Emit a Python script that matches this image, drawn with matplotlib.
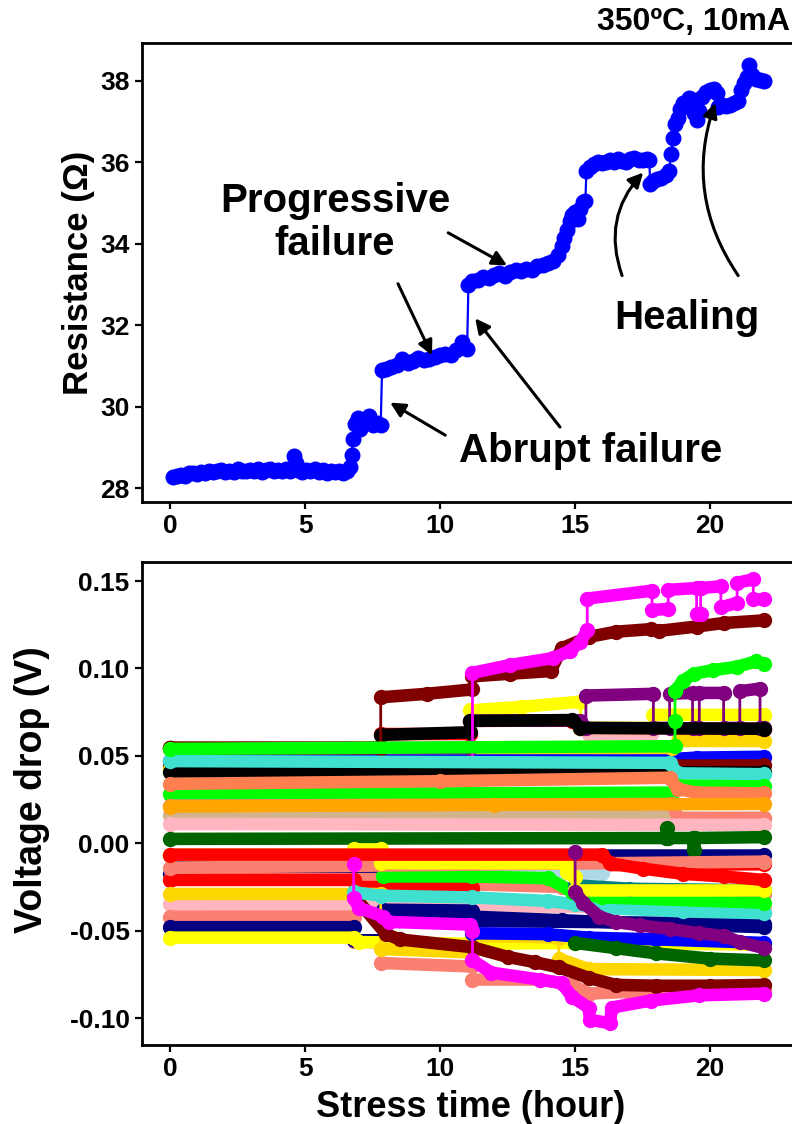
import numpy as np
import matplotlib
matplotlib.use("Agg")
import matplotlib.pyplot as plt
from matplotlib.ticker import FormatStrFormatter

plt.rcParams['font.family'] = ['Liberation Sans', 'DejaVu Sans']
plt.rcParams['font.weight'] = 'bold'
plt.rcParams['axes.labelweight'] = 'bold'

# --- resistance vs stress time (top panel) ---
t_res = [0.10, 0.25, 0.40, 0.55, 0.70, 0.85, 1.00, 1.15, 1.30, 1.45, 1.60, 1.75, 1.90, 2.05,
         2.20, 2.35, 2.50, 2.65, 2.80, 2.95, 3.10, 3.25, 3.40, 3.55, 3.70, 3.85, 4.00, 4.15,
         4.30, 4.45, 4.60, 4.65, 4.75, 4.90, 5.05, 5.20, 5.35, 5.50, 5.65, 5.80, 5.95, 6.10,
         6.25, 6.40, 6.55, 6.65, 6.72, 6.78, 6.85, 6.95, 7.05, 7.20, 7.35, 7.50, 7.65, 7.80,
         7.85, 8.00, 8.20, 8.40, 8.60, 8.80, 9.00, 9.20, 9.40, 9.60, 9.80, 10.00, 10.20,
         10.40, 10.60, 10.80, 11.00,
         11.05, 11.20, 11.40, 11.60, 11.80, 12.00, 12.20, 12.40, 12.60, 12.80, 13.00, 13.20,
         13.40, 13.60, 13.80, 14.00, 14.20, 14.35, 14.50, 14.60, 14.70, 14.80, 14.90, 15.00,
         15.10, 15.20, 15.30, 15.38,
         15.42, 15.55, 15.70, 15.85, 16.00, 16.15, 16.30, 16.45, 16.60, 16.75, 16.90, 17.05,
         17.20, 17.35, 17.50, 17.65, 17.75,
         17.78, 17.90, 18.05, 18.20, 18.35, 18.48, 18.55, 18.62, 18.70, 18.80, 18.90, 19.00,
         19.10, 19.20, 19.30, 19.40, 19.50, 19.60, 19.70, 19.85, 20.00, 20.15, 20.25, 20.30,
         20.45, 20.60, 20.75, 20.90, 21.05, 21.15, 21.25, 21.35, 21.45, 21.55, 21.70, 21.85,
         22.00]
r_res = [28.28, 28.30, 28.33, 28.31, 28.36, 28.38, 28.35, 28.40, 28.38, 28.42, 28.39, 28.41,
         28.44, 28.40, 28.42, 28.39, 28.48, 28.43, 28.41, 28.45, 28.42, 28.46, 28.40, 28.44,
         28.47, 28.42, 28.45, 28.41, 28.46, 28.43, 28.80, 28.62, 28.44, 28.40, 28.45, 28.42,
         28.47, 28.40, 28.44, 28.38, 28.41, 28.39, 28.43, 28.38, 28.42, 28.52, 28.82, 29.20,
         29.58, 29.72, 29.45, 29.62, 29.78, 29.55, 29.60, 29.55,
         30.90, 30.92, 30.98, 31.02, 31.18, 31.08, 31.12, 31.20, 31.15, 31.18, 31.22, 31.26,
         31.30, 31.28, 31.40, 31.58, 31.42,
         33.00, 33.08, 33.12, 33.18, 33.15, 33.24, 33.28, 33.22, 33.30, 33.35, 33.32, 33.38,
         33.35, 33.45, 33.48, 33.52, 33.58, 33.72, 33.95, 34.15, 34.35, 34.55, 34.70, 34.78,
         34.62, 34.85, 35.02, 35.05,
         35.80, 35.88, 35.95, 36.00, 35.98, 36.02, 36.05, 36.00, 36.08, 36.04, 36.02, 36.08,
         36.10, 36.05, 36.07, 36.08, 36.05,
         35.48, 35.55, 35.60, 35.62, 35.70, 35.78, 36.20, 36.60, 36.95, 37.10, 37.30, 37.45,
         37.40, 37.58, 37.55, 37.20, 37.05, 37.25, 37.60, 37.72, 37.78, 37.80, 37.70, 37.35,
         37.40, 37.38, 37.42, 37.45, 37.50, 37.78, 37.95, 38.10, 38.38, 38.15, 38.05, 38.02,
         38.00]

# --- voltage drop traces (bottom panel), listed in drawing order ---
navy_c_t = [0.0, 22.0]
navy_c_v = [-0.0065, -0.0065]
pink_hi_t = [0.0, 15.5, 15.5, 17.8, 17.8, 22.0]
pink_hi_v = [0.0545, 0.0545, 0.0625, 0.0625, 0.049, 0.049]
blue_hi_t = [0.0, 18.4, 19.5, 22.0]
blue_hi_v = [0.047, 0.048, 0.049, 0.0495]
maroon_mid_t = [0.0, 22.0]
maroon_mid_v = [0.044, 0.0445]
gold_hi_t = [0.0, 18.6, 18.8, 22.0]
gold_hi_v = [0.0545, 0.0545, 0.0585, 0.0585]
red_hi_t = [0.0, 7.8, 7.8, 11.1, 11.1, 14.9, 15.2, 22.0]
red_hi_v = [0.0545, 0.0545, 0.0625, 0.0625, 0.0700, 0.0702, 0.066, 0.0655]
yellow_hi_t = [0.0, 11.1, 11.1, 13.0, 15.2, 15.2, 17.9, 17.9, 22.0]
yellow_hi_v = [0.0425, 0.0425, 0.076, 0.078, 0.081, 0.066, 0.066, 0.0735, 0.0735]
purple_hi_t = [0.0, 11.1, 11.1, 15.2, 15.4, 15.4, 17.9, 17.9, 18.5, 18.5, 19.35, 19.35, 19.6,
               19.6, 20.5, 20.5, 21.1, 21.1, 21.85, 21.85, 22.0]
purple_hi_v = [0.0545, 0.0545, 0.0702, 0.0702, 0.066, 0.0845, 0.0855, 0.066, 0.066, 0.0855,
               0.086, 0.066, 0.066, 0.086, 0.086, 0.066, 0.066, 0.087, 0.0885, 0.066, 0.066]
black_hi_t = [0.0, 7.8, 7.8, 11.1, 11.1, 14.9, 15.2, 22.0]
black_hi_v = [0.0545, 0.0545, 0.062, 0.0635, 0.070, 0.0705, 0.066, 0.0655]
maroon_hi_t = [0.0, 7.8, 7.8, 9.5, 11.2, 11.2, 12.6, 14.1, 14.5, 15.5, 16.5, 17.8, 18.1,
               19.5, 20.5, 22.0]
maroon_hi_v = [0.0545, 0.0545, 0.0835, 0.0855, 0.088, 0.0955, 0.097, 0.0985, 0.1115, 0.118,
               0.121, 0.1225, 0.1215, 0.124, 0.126, 0.1275]
magenta_hi_t = [11.2, 11.2, 12.6, 14.2, 14.8, 15.2, 15.45, 15.45, 17.85, 17.85, 18.45, 18.45,
                19.5, 19.5, 19.65, 19.65, 20.4, 20.4, 21.0, 21.0, 21.6, 21.6, 22.0]
magenta_hi_v = [0.045, 0.0975, 0.102, 0.106, 0.110, 0.115, 0.122, 0.140, 0.1445, 0.1335,
                0.134, 0.145, 0.146, 0.131, 0.131, 0.146, 0.147, 0.135, 0.1375, 0.149, 0.151,
                0.1395, 0.1395]
black_mid_t = [0.0, 22.0]
black_mid_v = [0.041, 0.0405]
turq_hi_t = [0.0, 18.5, 18.8, 22.0]
turq_hi_v = [0.047, 0.046, 0.040, 0.0395]
lime_mid_t = [0.0, 18.6, 18.8, 22.0]
lime_mid_v = [0.028, 0.029, 0.033, 0.0325]
coral_t = [0.0, 10.0, 18.5, 18.8, 19.5, 22.0]
coral_v = [0.034, 0.0355, 0.0375, 0.031, 0.029, 0.0285]
tan_t = [0.0, 18.5, 18.8, 22.0]
tan_v = [0.016, 0.0175, 0.0145, 0.0145]
salmon_mid_t = [0.0, 18.6, 18.8, 22.0]
salmon_mid_v = [0.0215, 0.0225, 0.0145, 0.0145]
orange_t = [0.0, 12.0, 22.0]
orange_v = [0.021, 0.022, 0.0225]
pink_t = [0.0, 22.0]
pink_v = [0.011, 0.0105]
dgreen_t = [0.0, 18.35, 18.4, 18.45, 19.35, 19.4, 19.45, 22.0]
dgreen_v = [0.0025, 0.003, 0.0085, 0.003, 0.003, -0.004, 0.003, 0.0035]
lime_hi_t = [0.0, 18.7, 18.7, 18.7, 19.0, 19.4, 20.1, 21.0, 21.7, 22.0]
lime_hi_v = [0.054, 0.0555, 0.070, 0.087, 0.093, 0.097, 0.099, 0.101, 0.104, 0.1025]

pink_lo_t = [0.0, 22.0]
pink_lo_v = [-0.035, -0.037]
navy_lo_t = [0.0, 7.9, 7.9, 11.2, 11.2, 14.5, 17.5, 22.0]
navy_lo_v = [-0.0175, -0.018, -0.038, -0.0385, -0.042, -0.044, -0.046, -0.048]
salmon_c_t = [0.0, 11.2, 11.2, 14.5, 15.5, 22.0]
salmon_c_v = [-0.0205, -0.0205, -0.0235, -0.025, -0.029, -0.029]
red_c_t = [0.0, 6.8, 6.9, 11.2, 11.2, 22.0]
red_c_v = [-0.021, -0.021, -0.025, -0.0255, -0.013, -0.012]
salmon_f_t = [0.0, 6.8, 6.8, 7.8, 7.8, 11.2, 11.2, 13.7, 14.9, 15.5, 17.0, 22.0]
salmon_f_v = [-0.042, -0.042, -0.056, -0.057, -0.0685, -0.0705, -0.078, -0.078, -0.081,
              -0.086, -0.085, -0.084]
navy_g_t = [0.0, 6.8, 6.8, 8.0, 8.0, 22.0]
navy_g_v = [-0.048, -0.048, -0.0555, -0.0555, -0.044, -0.046]
yellow_lo_t = [0.0, 6.8, 7.0, 11.2, 15.0, 22.0]
yellow_lo_v = [-0.054, -0.054, -0.0565, -0.0575, -0.057, -0.058]
gold_lo_t = [0.0, 7.8, 7.8, 11.2, 11.2, 14.4, 14.4, 15.5, 22.0]
gold_lo_v = [-0.029, -0.029, -0.0605, -0.0625, -0.053, -0.054, -0.066, -0.072, -0.0725]
maroon_lo_t = [6.8, 8.0, 8.5, 11.2, 12.5, 13.5, 14.4, 15.5, 16.5, 18.0, 20.0, 22.0]
maroon_lo_v = [-0.030, -0.052, -0.055, -0.0595, -0.065, -0.068, -0.071, -0.077, -0.081,
               -0.0815, -0.0815, -0.081]
blue_lo_t = [11.2, 14.0, 15.5, 18.0, 22.0]
blue_lo_v = [-0.0515, -0.052, -0.054, -0.055, -0.057]
dgreen_lo_t = [15.0, 16.5, 18.0, 20.0, 22.0]
dgreen_lo_v = [-0.057, -0.060, -0.063, -0.066, -0.067]
lblue_t = [11.2, 16.0]
lblue_v = [-0.017, -0.017]
turq_lo_t = [6.8, 7.8, 11.2, 14.0, 15.0, 16.0, 19.0, 22.0]
turq_lo_v = [-0.028, -0.030, -0.031, -0.033, -0.035, -0.037, -0.039, -0.040]
lime_lo_t = [7.9, 11.2, 14.0, 14.9, 16.0, 22.0]
lime_lo_v = [-0.019, -0.019, -0.020, -0.028, -0.031, -0.034]
teal_t = [15.0, 17.0, 22.0]
teal_v = [-0.024, -0.026, -0.027]
salmon_b_t = [0.0, 22.0]
salmon_b_v = [-0.014, -0.0105]
yellow2_t = [0.0, 6.8, 6.8, 7.8, 7.8, 14.7, 14.7, 15.0, 15.0, 22.0]
yellow2_v = [-0.0065, -0.0065, -0.0035, -0.0035, -0.0115, -0.0115, -0.0165, -0.0195, -0.027,
             -0.027]
red_a_t = [0.0, 16.0, 16.3, 17.5, 19.0, 20.5, 22.0]
red_a_v = [-0.0065, -0.0065, -0.0115, -0.0145, -0.0175, -0.019, -0.021]
purple_lo_t = [15.0, 15.0, 15.3, 15.9, 16.5, 17.4, 18.5, 19.6, 20.5, 21.1, 22.0]
purple_lo_v = [-0.005, -0.028, -0.034, -0.042, -0.045, -0.047, -0.049, -0.0515, -0.053,
               -0.0565, -0.060]
magenta_lo_t = [6.8, 6.8, 7.0, 7.9, 8.1, 11.1, 11.2, 11.2, 11.9, 13.7, 14.5, 14.9, 15.5, 15.55,
                16.3, 16.35, 17.8, 19.6, 22.0]
magenta_lo_v = [-0.012, -0.0315, -0.037, -0.042, -0.045, -0.0465, -0.050, -0.067, -0.074,
                -0.078, -0.080, -0.088, -0.094, -0.101, -0.103, -0.094, -0.090, -0.087, -0.086]

traces = [
    ('#000080', navy_c_t, navy_c_v),
    ('#FFB6C1', pink_hi_t, pink_hi_v),
    ('#0000FF', blue_hi_t, blue_hi_v),
    ('#800000', maroon_mid_t, maroon_mid_v),
    ('#FFD700', gold_hi_t, gold_hi_v),
    ('#FF0000', red_hi_t, red_hi_v),
    ('#FFFF00', yellow_hi_t, yellow_hi_v),
    ('#800080', purple_hi_t, purple_hi_v),
    ('#000000', black_hi_t, black_hi_v),
    ('#800000', maroon_hi_t, maroon_hi_v),
    ('#FF00FF', magenta_hi_t, magenta_hi_v),
    ('#000000', black_mid_t, black_mid_v),
    ('#40E0D0', turq_hi_t, turq_hi_v),
    ('#00FF00', lime_mid_t, lime_mid_v),
    ('#FF7F50', coral_t, coral_v),
    ('#D2B48C', tan_t, tan_v),
    ('#FA8072', salmon_mid_t, salmon_mid_v),
    ('#FFA500', orange_t, orange_v),
    ('#FFB6C1', pink_t, pink_v),
    ('#006400', dgreen_t, dgreen_v),
    ('#00FF00', lime_hi_t, lime_hi_v),
    ('#FFB6C1', pink_lo_t, pink_lo_v),
    ('#000080', navy_lo_t, navy_lo_v),
    ('#FA8072', salmon_c_t, salmon_c_v),
    ('#FF0000', red_c_t, red_c_v),
    ('#FA8072', salmon_f_t, salmon_f_v),
    ('#000080', navy_g_t, navy_g_v),
    ('#FFFF00', yellow_lo_t, yellow_lo_v),
    ('#FFD700', gold_lo_t, gold_lo_v),
    ('#800000', maroon_lo_t, maroon_lo_v),
    ('#0000FF', blue_lo_t, blue_lo_v),
    ('#006400', dgreen_lo_t, dgreen_lo_v),
    ('#ADD8E6', lblue_t, lblue_v),
    ('#40E0D0', turq_lo_t, turq_lo_v),
    ('#00FF00', lime_lo_t, lime_lo_v),
    ('#008080', teal_t, teal_v),
    ('#FA8072', salmon_b_t, salmon_b_v),
    ('#FFFF00', yellow2_t, yellow2_v),
    ('#FF0000', red_a_t, red_a_v),
    ('#800080', purple_lo_t, purple_lo_v),
    ('#FF00FF', magenta_lo_t, magenta_lo_v),
]


def draw_trace(ax, t, v, color):
    """Thick marker-like band on the plateaus, thin line on vertical jumps."""
    t = np.asarray(t, float)
    v = np.asarray(v, float)
    tt, vv = [t[0]], [v[0]]
    for i in range(1, len(t)):
        if t[i] == t[i - 1]:
            tt.append(np.nan)
            vv.append(np.nan)
        tt.append(t[i])
        vv.append(v[i])
    ax.plot(t, v, color=color, lw=2.0)
    ax.plot(tt, vv, color=color, lw=9.0, solid_capstyle='round', solid_joinstyle='round')
    ax.plot(t, v, 'o', color=color, ms=10, mec=color)


def style_axes(ax):
    for sp in ax.spines.values():
        sp.set_linewidth(2.0)
    ax.tick_params(direction='out', length=5, width=1.6, labelsize=19, pad=4)
    for lab in ax.get_xticklabels() + ax.get_yticklabels():
        lab.set_fontweight('bold')


fig = plt.figure(figsize=(7.92, 11.24), dpi=100)
xlim = (-1.04, 23.13)

# top panel
ax1 = fig.add_axes([0.1793, 0.5534, 0.824, 0.4083])
ax1.plot(t_res, r_res, '-o', color='#0000FF', lw=1.6, ms=10.5)
ax1.set_xlim(*xlim)
ax1.set_ylim(27.66, 38.93)
ax1.set_xticks([0, 5, 10, 15, 20])
ax1.set_yticks([28, 30, 32, 34, 36, 38])
style_axes(ax1)
ax1.set_ylabel('Resistance (Ω)', fontsize=25, fontweight='bold')
ax1.yaxis.set_label_coords(-0.072, 0.5)

arrow = dict(arrowstyle='-|>', color='black', lw=2.2, mutation_scale=22,
             shrinkA=0, shrinkB=0)
ax1.text(6.11, 34.52, 'Progressive\nfailure', fontsize=29, fontweight='bold',
         ha='center', va='center', linespacing=1.15)
ax1.annotate('', xy=(9.70, 31.26), xytext=(8.44, 33.02), arrowprops=arrow)
ax1.annotate('', xy=(12.48, 33.47), xytext=(10.30, 34.27), arrowprops=arrow)
ax1.text(15.56, 28.91, 'Abrupt failure', fontsize=29, fontweight='bold',
         ha='center', va='center')
ax1.annotate('', xy=(11.30, 32.17), xytext=(14.44, 29.50), arrowprops=arrow)
ax1.annotate('', xy=(8.15, 30.10), xytext=(10.19, 29.30), arrowprops=arrow)
ax1.text(19.15, 32.17, 'Healing', fontsize=29, fontweight='bold',
         ha='center', va='center')
ax1.annotate('', xy=(17.52, 35.75), xytext=(16.74, 33.22),
             arrowprops=dict(arrow, connectionstyle='arc3,rad=-0.3'))
ax1.annotate('', xy=(20.19, 37.46), xytext=(21.04, 33.22),
             arrowprops=dict(arrow, connectionstyle='arc3,rad=-0.25'))

fig.text(0.998, 0.980, '350ºC, 10mA', fontsize=23, fontweight='bold',
         ha='right', va='center')

# bottom panel
ax2 = fig.add_axes([0.1793, 0.0703, 0.824, 0.4297])
for color, t, v in traces:
    draw_trace(ax2, t, v, color)
ax2.set_xlim(*xlim)
ax2.set_ylim(-0.1154, 0.1609)
ax2.set_xticks([0, 5, 10, 15, 20])
ax2.set_yticks([-0.10, -0.05, 0.00, 0.05, 0.10, 0.15])
ax2.yaxis.set_major_formatter(FormatStrFormatter('%.2f'))
style_axes(ax2)
ax2.set_ylabel('Voltage drop (V)', fontsize=27, fontweight='bold')
ax2.yaxis.set_label_coords(-0.141, 0.528)
ax2.set_xlabel('Stress time (hour)', fontsize=26, fontweight='bold')
ax2.xaxis.set_label_coords(0.503, -0.093)

fig.savefig('out.png', dpi=100)
